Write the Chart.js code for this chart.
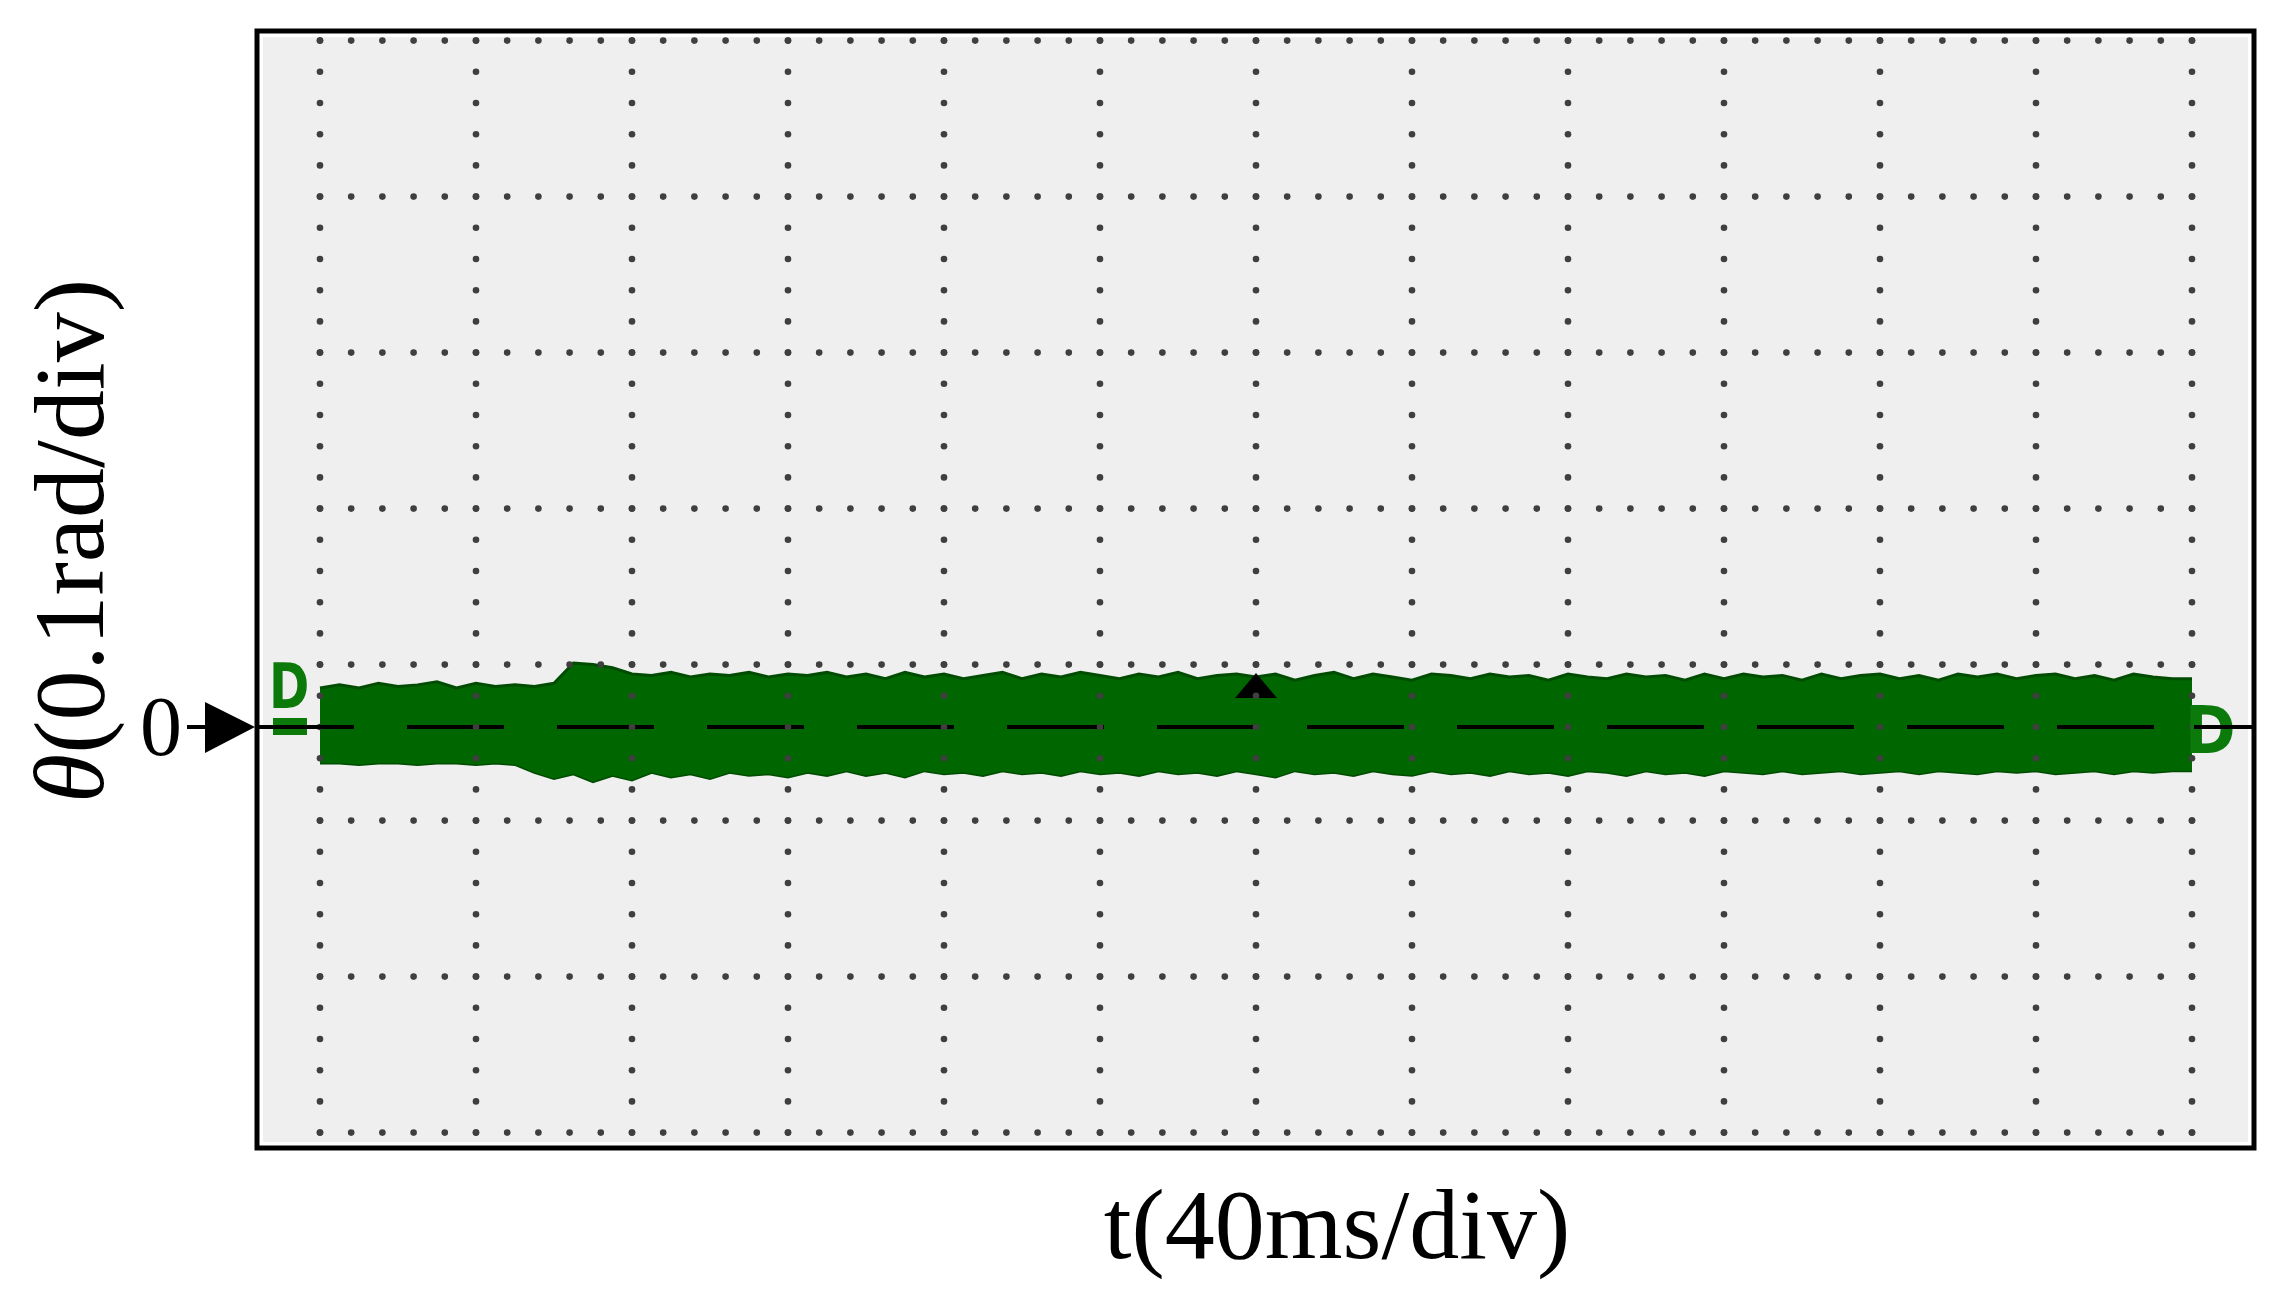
<!DOCTYPE html>
<html><head><meta charset="utf-8">
<script src="https://cdn.jsdelivr.net/npm/chart.js@4.4.0/dist/chart.umd.min.js"></script>
<style>html,body{margin:0;padding:0;background:#fff;overflow:hidden}canvas{display:block}</style>
</head><body>
<canvas id="c" width="2289" height="1299"></canvas>
<script>
// ---- data (time in ms, angle theta in rad) ----
const timeMs = [0,5,10,15,20,25,30,35,40,45,50,55,60,65,70,75,80,85,90,95,100,105,110,115,120,125,130,135,140,145,150,155,160,165,170,175,180,185,190,195,200,205,210,215,220,225,230,235,240,245,250,255,260,265,270,275,280,285,290,295,300,305,310,315,320,325,330,335,340,345,350,355,360,365,370,375,380,385,390,395,400,405,410,415,420,425,430,435,440,445,450,455,460,465,470,475,480];
const thetaUpper = [0.025,0.027,0.025,0.028,0.026,0.027,0.029,0.025,0.028,0.026,0.027,0.026,0.028,0.041,0.040,0.038,0.034,0.033,0.035,0.032,0.034,0.033,0.035,0.032,0.034,0.033,0.035,0.032,0.034,0.031,0.035,0.032,0.034,0.031,0.033,0.035,0.031,0.034,0.032,0.035,0.033,0.031,0.034,0.032,0.035,0.031,0.033,0.034,0.032,0.034,0.030,0.033,0.035,0.031,0.034,0.032,0.030,0.034,0.033,0.031,0.034,0.032,0.033,0.030,0.034,0.032,0.031,0.034,0.032,0.033,0.030,0.034,0.031,0.034,0.032,0.033,0.030,0.034,0.031,0.033,0.034,0.031,0.033,0.030,0.034,0.032,0.034,0.031,0.033,0.034,0.031,0.033,0.030,0.034,0.032,0.031,0.031];
const thetaLower = [-0.023,-0.023,-0.024,-0.023,-0.023,-0.024,-0.023,-0.023,-0.024,-0.023,-0.024,-0.029,-0.033,-0.030,-0.035,-0.031,-0.034,-0.029,-0.032,-0.030,-0.033,-0.029,-0.031,-0.030,-0.032,-0.029,-0.031,-0.028,-0.031,-0.029,-0.032,-0.028,-0.030,-0.029,-0.031,-0.028,-0.030,-0.029,-0.031,-0.028,-0.030,-0.029,-0.031,-0.028,-0.030,-0.029,-0.031,-0.028,-0.030,-0.032,-0.028,-0.030,-0.029,-0.031,-0.028,-0.030,-0.031,-0.028,-0.030,-0.029,-0.031,-0.028,-0.030,-0.029,-0.031,-0.028,-0.029,-0.031,-0.028,-0.030,-0.029,-0.031,-0.028,-0.029,-0.030,-0.028,-0.030,-0.029,-0.028,-0.030,-0.029,-0.028,-0.030,-0.028,-0.029,-0.030,-0.028,-0.029,-0.028,-0.030,-0.029,-0.028,-0.030,-0.028,-0.029,-0.028,-0.028];
const zeroLineX = [-16.15, 495.9];
const zeroLineY = [0, 0];
const triggerX = [240];
const triggerY = [0.0266];
const gridXTicks = [0,40,80,120,160,200,240,280,320,360,400,440,480];
const gridYTicks = [0.44,0.34,0.24,0.14,0.04,-0.06,-0.16,-0.26];
const xTitle = 't(40ms/div)';
const yTitleSymbol = 'θ';
const yTitleRest = '(0.1rad/div)';
const zeroLabel = '0';
const channelMark = 'D';

// ---- chart ----
const BAND = '#006600', EDGE = '#004c00', MARK = '#0b7a0b';
const pts = (xs, ys) => xs.map((x, i) => ({x, y: ys[i]}));

const tri = document.createElement('canvas');
tri.width = 42; tri.height = 25;
(function(){const t=tri.getContext('2d');t.fillStyle='#000';t.beginPath();t.moveTo(21,0);t.lineTo(42,25);t.lineTo(0,25);t.closePath();t.fill();})();

function drawBoxText(ctx, txt, font, color, bx, by, bw, bh) {
  ctx.save();
  ctx.font = font; ctx.fillStyle = color; ctx.textAlign = 'left'; ctx.textBaseline = 'alphabetic';
  const m = ctx.measureText(txt);
  const iw = m.actualBoundingBoxLeft + m.actualBoundingBoxRight;
  const ih = m.actualBoundingBoxAscent + m.actualBoundingBoxDescent;
  const sx = bw / iw, sy = bh / ih;
  ctx.translate(bx + m.actualBoundingBoxLeft * sx, by + m.actualBoundingBoxAscent * sy);
  ctx.scale(sx, sy);
  ctx.fillText(txt, 0, 0);
  ctx.restore();
}

const scopePlugin = {
  id: 'scope',
  beforeDraw(chart) {
    const {ctx, chartArea: a} = chart;
    ctx.save();
    ctx.fillStyle = '#ffffff';
    ctx.fillRect(0, 0, chart.width, chart.height);
    ctx.fillStyle = '#efefef';
    ctx.fillRect(a.left + 6, a.top + 6, a.right - a.left - 12, a.bottom - a.top - 12);
    ctx.restore();
  },
  afterDatasetsDraw(chart) {
    const {ctx, scales: {x, y}} = chart;
    ctx.save();
    ctx.fillStyle = '#3f3f3f';
    const dot = (px, py) => { ctx.beginPath(); ctx.arc(px, py, 3.3, 0, Math.PI * 2); ctx.fill(); };
    const y0 = gridYTicks[0], y1 = gridYTicks[gridYTicks.length - 1];
    const x0 = gridXTicks[0], x1 = gridXTicks[gridXTicks.length - 1];
    const ystep = (gridYTicks[0] - gridYTicks[1]) / 5, xstep = (gridXTicks[1] - gridXTicks[0]) / 5;
    gridXTicks.forEach(gx => {
      const px = x.getPixelForValue(gx);
      for (let v = y0; v >= y1 - 1e-9; v -= ystep) dot(px, y.getPixelForValue(v));
    });
    gridYTicks.forEach(gy => {
      const py = y.getPixelForValue(gy);
      for (let v = x0; v <= x1 + 1e-9; v += xstep) dot(x.getPixelForValue(v), py);
    });
    ctx.restore();
  },
  afterDraw(chart) {
    const {ctx, chartArea: a, scales: {x, y}} = chart;
    const zy = y.getPixelForValue(0);
    ctx.save();
    // frame
    ctx.strokeStyle = '#000'; ctx.lineWidth = 5;
    ctx.strokeRect(a.left, a.top, a.right - a.left, a.bottom - a.top);
    // channel markers
    drawBoxText(ctx, channelMark, 'bold 60px "DejaVu Sans"', MARK, a.left + 16, zy - 65, 34, 46);
    ctx.fillStyle = MARK; ctx.fillRect(a.left + 16, zy - 9, 34, 17);
    ctx.strokeStyle = '#000'; ctx.lineWidth = 4;
    ctx.beginPath(); ctx.moveTo(a.left, zy); ctx.lineTo(a.left + 97, zy); ctx.stroke();
    drawBoxText(ctx, channelMark, 'bold 60px "DejaVu Sans"', MARK, x.getPixelForValue(480) - 2, zy - 22, 43, 48);
    ctx.beginPath(); ctx.moveTo(x.getPixelForValue(480) + 2, zy); ctx.lineTo(a.right, zy); ctx.stroke();
    // zero arrow
    ctx.fillStyle = '#000';
    ctx.beginPath(); ctx.moveTo(187, zy); ctx.lineTo(a.left - 8, zy); ctx.stroke();
    ctx.beginPath(); ctx.moveTo(a.left - 2, zy); ctx.lineTo(205, zy - 25); ctx.lineTo(205, zy + 26); ctx.closePath(); ctx.fill();
    ctx.font = '84px "Liberation Serif"'; ctx.textAlign = 'center'; ctx.textBaseline = 'alphabetic';
    ctx.fillText(zeroLabel, 161, zy + 28);
    // x title
    ctx.font = '100px "Liberation Serif"';
    ctx.fillText(xTitle, 1337, 1258);
    // y title
    ctx.translate(103, 541); ctx.rotate(-Math.PI / 2);
    ctx.textAlign = 'left';
    ctx.font = 'italic 100px "Liberation Serif"';
    const w1 = ctx.measureText(yTitleSymbol).width;
    ctx.font = '100px "Liberation Serif"';
    const w2 = ctx.measureText(yTitleRest).width;
    const sx = -(w1 + w2) / 2;
    ctx.font = 'italic 100px "Liberation Serif"';
    ctx.fillText(yTitleSymbol, sx, 0);
    ctx.font = '100px "Liberation Serif"';
    ctx.fillText(yTitleRest, sx + w1, 0);
    ctx.restore();
  }
};

new Chart(document.getElementById('c'), {
  type: 'line',
  data: {
    datasets: [
      {label: 'zero', data: pts(zeroLineX, zeroLineY), borderColor: '#000', borderWidth: 4, borderDash: [97, 53], pointRadius: 0, fill: false},
      {label: 'trigger', data: pts(triggerX, triggerY), showLine: false, pointStyle: tri, pointRadius: 1, borderWidth: 0, clip: false},
      {label: 'theta upper', data: pts(timeMs, thetaUpper), borderColor: EDGE, borderWidth: 3, backgroundColor: BAND, pointRadius: 0, fill: '+1'},
      {label: 'theta lower', data: pts(timeMs, thetaLower), borderColor: EDGE, borderWidth: 3, pointRadius: 0, fill: false}
    ]
  },
  options: {
    responsive: false, animation: false, devicePixelRatio: 1,
    layout: {padding: {left: 257, top: 31, right: 35, bottom: 151}},
    elements: {line: {tension: 0}},
    plugins: {legend: {display: false}, tooltip: {enabled: false}, title: {display: false}},
    scales: {
      x: {type: 'linear', min: -16.15, max: 495.9, display: false},
      y: {type: 'linear', min: -0.26987, max: 0.44615, display: false}
    }
  },
  plugins: [scopePlugin]
});
</script>
</body></html>
